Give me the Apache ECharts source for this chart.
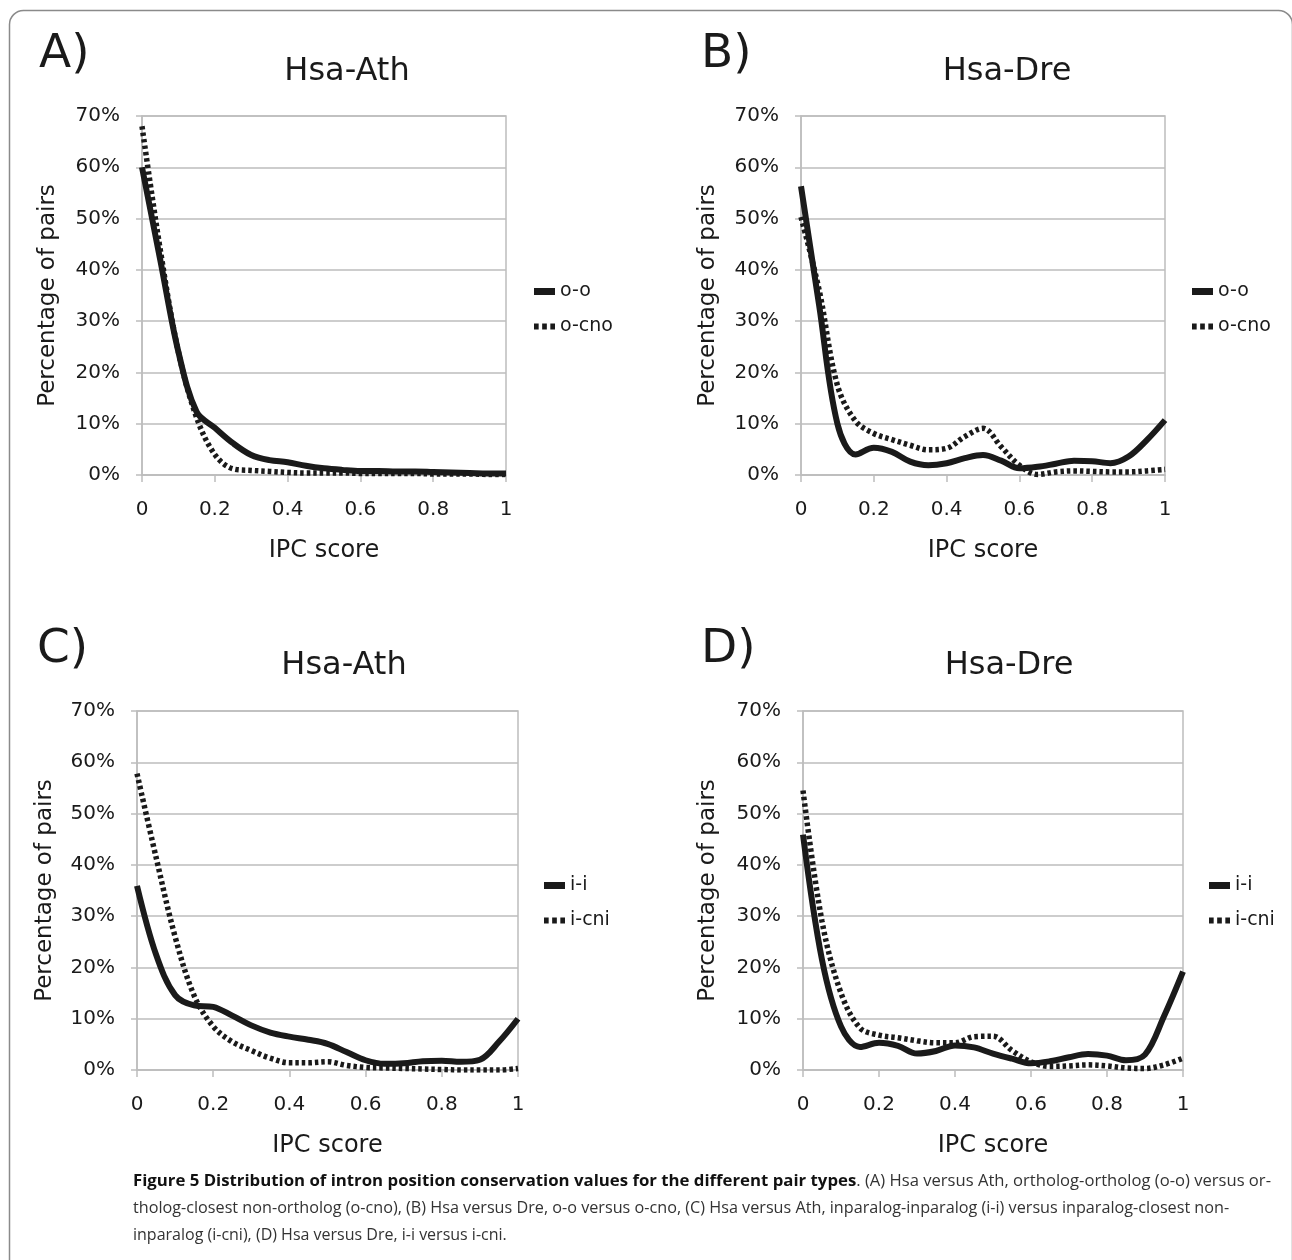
<!DOCTYPE html>
<html>
<head>
<meta charset="utf-8">
<title>Figure 5</title>
<script src="https://cdn.jsdelivr.net/npm/echarts@6/dist/echarts.min.js"></script>
<style>
  html, body { margin: 0; padding: 0; background: #fff; }
  #main { width: 1292px; height: 1260px; }
</style>
</head>
<body>
<div id="main"></div>
<script>
  // IPC score positions (x) and percentage of pairs (y)
  var ipcScore = [0, 0.05, 0.1, 0.15, 0.2, 0.25, 0.3, 0.35, 0.4, 0.45, 0.5,
                  0.55, 0.6, 0.65, 0.7, 0.75, 0.8, 0.85, 0.9, 0.95, 1];

  // A) Hsa-Ath
  var athOO   = [60, 42, 24, 12.3, 9.2, 6.2, 3.9, 2.9, 2.5, 1.8, 1.3, 1.0, 0.8, 0.8, 0.7, 0.7, 0.6, 0.5, 0.4, 0.3, 0.3];
  var athOCno = [68, 44, 24, 11.2, 4.0, 1.2, 0.9, 0.7, 0.5, 0.4, 0.4, 0.4, 0.3, 0.3, 0.3, 0.3, 0.2, 0.2, 0.2, 0.1, 0.1];
  // B) Hsa-Dre
  var dreOO   = [56.3, 33, 10, 4.0, 5.3, 4.5, 2.6, 1.9, 2.3, 3.3, 3.9, 2.8, 1.3, 1.6, 2.2, 2.8, 2.7, 2.3, 3.6, 6.8, 10.7];
  var dreOCno = [50.3, 36, 17.5, 10.5, 8.1, 6.9, 5.8, 4.9, 5.2, 7.5, 9.1, 5.5, 1.9, 0.1, 0.6, 0.8, 0.7, 0.6, 0.6, 0.8, 1.1];
  // C) Hsa-Ath
  var athII   = [35.9, 22.5, 14.6, 12.6, 12.3, 10.6, 8.7, 7.3, 6.5, 5.9, 5.1, 3.5, 1.9, 1.2, 1.3, 1.7, 1.8, 1.6, 2.0, 5.5, 10];
  var athICni = [57.8, 41.5, 26, 14.5, 8.5, 5.5, 3.8, 2.3, 1.4, 1.4, 1.6, 0.9, 0.5, 0.4, 0.3, 0.2, 0.1, 0, 0, 0, 0.3];
  // D) Hsa-Dre
  var dreII   = [45.9, 21.5, 8.5, 4.5, 5.3, 4.7, 3.2, 3.7, 4.8, 4.4, 3.2, 2.2, 1.3, 1.7, 2.5, 3.1, 2.8, 1.9, 3.0, 10.5, 19.2];
  var dreICni = [54.5, 29, 15, 8.2, 6.8, 6.3, 5.7, 5.3, 5.3, 6.5, 6.6, 3.8, 1.6, 0.7, 0.8, 1.0, 0.8, 0.4, 0.3, 1.0, 2.3];

  var panelLetters = ['A)', 'B)', 'C)', 'D)'];
  var panelTitles = ['Hsa-Ath', 'Hsa-Dre', 'Hsa-Ath', 'Hsa-Dre'];
  var panelSeries = [
    [['o-o', athOO], ['o-cno', athOCno]],
    [['o-o', dreOO], ['o-cno', dreOCno]],
    [['i-i', athII], ['i-cni', athICni]],
    [['i-i', dreII], ['i-cni', dreICni]]
  ];

  // layout of the four panels (pixels)
  var layout = [
    { grid: [142, 116, 364, 359], letter: [34, 26], title: [342, 51], legend: [534, 282], yGap: 82 },
    { grid: [801, 116, 364, 359], letter: [696, 26], title: [1002, 51], legend: [1192, 282], yGap: 81 },
    { grid: [137, 711, 381, 359], letter: [32, 621], title: [339, 645], legend: [544, 876], yGap: 80 },
    { grid: [803, 711, 380, 359], letter: [696, 621], title: [1004, 645], legend: [1209, 876], yGap: 83 }
  ];

  var FONT = 'DejaVu Sans';
  var GRAY = '#bdbdbd';
  var INK = '#1a1a1a';
  // legend glyphs: a solid bar and three dots
  var solidIcon = 'rect';
  var dottedIcon = 'path://M0,0h4v5h-4zM7,0h4v5h-4zM14,0h4v5h-4z';

  var grids = [], xAxes = [], yAxes = [], titles = [], legends = [], series = [];

  layout.forEach(function (p, i) {
    grids.push({
      left: p.grid[0], top: p.grid[1], width: p.grid[2], height: p.grid[3],
      show: true, borderColor: GRAY, borderWidth: 1.5,
      outerBoundsMode: 'none'
    });
    xAxes.push({
      gridIndex: i, type: 'value', min: 0, max: 1, interval: 0.2,
      name: 'IPC score', nameLocation: 'middle', nameGap: 64,
      nameTextStyle: { fontFamily: FONT, fontSize: 24, color: INK },
      axisLine: { lineStyle: { color: GRAY, width: 1.5 } },
      axisTick: { show: true, length: 7, lineStyle: { color: GRAY, width: 1.5 } },
      splitLine: { show: false },
      axisLabel: {
        margin: 25, fontFamily: FONT, fontSize: 20, color: INK,
        formatter: function (v) { return (v === 0 || v === 1) ? String(v) : v.toFixed(1); }
      }
    });
    yAxes.push({
      gridIndex: i, type: 'value', min: 0, max: 70, interval: 10,
      name: 'Percentage of pairs', nameLocation: 'middle', nameGap: p.yGap,
      nameTextStyle: { fontFamily: FONT, fontSize: 23, color: INK },
      axisLine: { show: true, lineStyle: { color: GRAY, width: 1.5 } },
      axisTick: { show: true, length: 6, lineStyle: { color: GRAY, width: 1.5 } },
      splitLine: { show: true, lineStyle: { color: GRAY, width: 1.5 } },
      axisLabel: { margin: 22, fontFamily: FONT, fontSize: 20, color: INK, formatter: '{value}%' }
    });
    titles.push({
      text: panelLetters[i], left: p.letter[0], top: p.letter[1],
      textStyle: { fontFamily: FONT, fontSize: 47, fontWeight: 'normal', color: INK }
    });
    titles.push({
      text: panelTitles[i], left: p.title[0], top: p.title[1], textAlign: 'center',
      textStyle: { fontFamily: FONT, fontSize: 32, fontWeight: 'normal', color: INK }
    });
    legends.push({
      data: [
        { name: panelSeries[i][0][0], icon: solidIcon },
        { name: panelSeries[i][1][0], icon: dottedIcon }
      ],
      left: p.legend[0], top: p.legend[1], orient: 'vertical',
      itemWidth: 21, itemHeight: 7, itemGap: 16, padding: 0,
      selectedMode: false,
      itemStyle: { color: INK, borderWidth: 0 },
      textStyle: { fontFamily: FONT, fontSize: 19, color: INK }
    });
    panelSeries[i].forEach(function (s, k) {
      series.push({
        name: s[0], type: 'line', xAxisIndex: i, yAxisIndex: i,
        data: ipcScore.map(function (x, j) { return [x, s[1][j]]; }),
        smooth: 0.35, symbol: 'none', z: k === 0 ? 3 : 2,
        itemStyle: { color: INK },
        lineStyle: k === 0
          ? { color: INK, width: 6 }
          : { color: INK, width: 5.5, type: [3.5, 3], cap: 'butt' }
      });
    });
  });

  var captionFont = '"Open Sans", "Noto Sans", sans-serif';
  var captionLeft = 133;

  var option = {
    animation: false,
    backgroundColor: '#fff',
    title: titles,
    legend: legends,
    grid: grids,
    xAxis: xAxes,
    yAxis: yAxes,
    series: series,
    graphic: [
      {
        type: 'rect', silent: true, z: -1,
        shape: { x: 9.5, y: 10.5, width: 1283, height: 1300, r: 14 },
        style: { fill: 'none', stroke: '#8a8a8a', lineWidth: 1.5 }
      },
      {
        type: 'text', left: captionLeft, top: 1173, silent: true,
        style: {
          text: '{b|Figure 5 Distribution of intron position conservation values for the different pair types}{n|. (A) Hsa versus Ath, ortholog-ortholog (o-o) versus or-}',
          rich: {
            b: { fontFamily: captionFont, fontSize: 16.8, fontWeight: 'bold', fill: '#111' },
            n: { fontFamily: captionFont, fontSize: 16.6, fill: '#333' }
          }
        }
      },
      {
        type: 'text', left: captionLeft, top: 1200, silent: true,
        style: {
          text: 'tholog-closest non-ortholog (o-cno), (B) Hsa versus Dre, o-o versus o-cno, (C) Hsa versus Ath, inparalog-inparalog (i-i) versus inparalog-closest non-',
          fontFamily: captionFont, fontSize: 16.2, fill: '#333'
        }
      },
      {
        type: 'text', left: captionLeft, top: 1227, silent: true,
        style: {
          text: 'inparalog (i-cni), (D) Hsa versus Dre, i-i versus i-cni.',
          fontFamily: captionFont, fontSize: 16, fill: '#333'
        }
      }
    ]
  };

  var myChart = echarts.init(document.getElementById('main'));
  myChart.setOption(option);
</script>
</body>
</html>
